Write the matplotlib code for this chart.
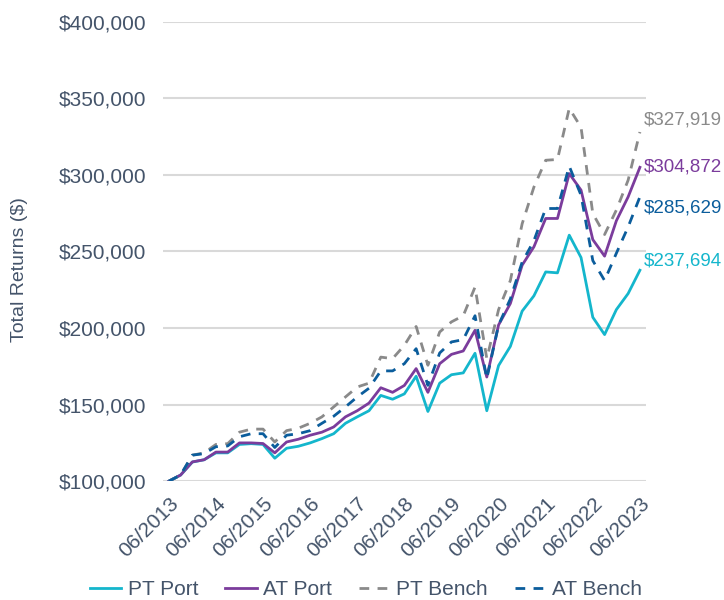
"""
Growth of $100,000 - portfolios vs benchmarks
"""

import numpy as np
import matplotlib.pyplot as plt
from matplotlib.ticker import FuncFormatter

plt.rcParams['font.family'] = ['Liberation Sans', 'DejaVu Sans']

# quarterly points, 06/2013 .. 06/2023
years = list(range(2013, 2024))
tick_labels = ['06/' + str(y) for y in years]

pt_port = [100000, 104000, 112500, 114000, 118500, 118500, 124000, 124500, 124000, 115000,
           121500, 122800, 125000, 127800, 131000, 137800, 142000, 146000, 156000, 153500,
           157000, 168500, 145500, 164000, 169500, 170700, 183500, 146000, 175500, 188000,
           211000, 221000, 236600, 236000, 260600, 246000, 207000, 195700, 212000, 222500,
           237694]
at_port = [100000, 104000, 112600, 114000, 119000, 119000, 125000, 125000, 124600, 118500,
           125600, 127400, 130000, 132000, 135400, 142000, 146000, 151000, 161000, 158000,
           162500, 173500, 158000, 176700, 182800, 185000, 198500, 168000, 202000, 216000,
           241000, 253000, 271500, 271500, 300800, 290000, 257700, 246900, 270000, 285600,
           304872]
pt_bench = [100000, 104000, 117000, 118500, 124000, 124500, 132000, 134000, 134000, 125600,
            133000, 134600, 137800, 142000, 148500, 155000, 161500, 164000, 181000, 180000,
            188700, 201000, 175700, 197400, 204000, 208000, 226700, 180000, 212000, 231000,
            268000, 292000, 309500, 310000, 343400, 331000, 274700, 261000, 277000, 296500,
            327919]
at_bench = [100000, 104000, 117000, 118000, 122500, 123000, 129000, 131000, 131000, 122000,
            130000, 131000, 133000, 137800, 142400, 148500, 155000, 160700, 172000, 172000,
            176700, 186500, 162600, 183700, 190900, 192400, 208000, 167000, 202000, 219000,
            243000, 257000, 278000, 278000, 305600, 286700, 244000, 231000, 248800, 266000,
            285629]

c_cyan = '#14b6cc'
c_purple = '#7b3c9c'
c_gray = '#8a8a8a'
c_blue = '#0b5d9c'
txt = '#44546a'

x = np.arange(len(pt_port))

plt.close('all')
fig = plt.figure(figsize=(7.24, 6), dpi=100)
ax = fig.add_axes([0.225, 0.198, 0.667, 0.766])

ax.plot(x, pt_port, color=c_cyan, lw=2, label='PT Port')
ax.plot(x, at_port, color=c_purple, lw=2, label='AT Port')
ax.plot(x, pt_bench, color=c_gray, lw=2, ls=(0, (3.5, 3)), label='PT Bench')
ax.plot(x, at_bench, color=c_blue, lw=2, ls=(0, (3.5, 3)), label='AT Bench')

# end labels, nudged so they don't collide
for vals, c, dy in [(pt_bench, c_gray, 9), (at_port, c_purple, 0),
                    (at_bench, c_blue, -8), (pt_port, c_cyan, 7)]:
    ax.annotate('${:,.0f}'.format(vals[-1]), (x[-1], vals[-1]), xytext=(3, dy),
                textcoords='offset points', color=c, fontsize=13.5, ha='left', va='center',
                annotation_clip=False)

ax.set_xlim(-0.5, len(x) - 0.5)
ax.set_ylim(100000, 400000)
ax.set_yticks(np.arange(100000, 400001, 50000))
ax.yaxis.set_major_formatter(FuncFormatter(lambda v, p: '${:,.0f}'.format(v)))
ax.set_xticks(x[::4])
ax.set_xticklabels(tick_labels, rotation=45, ha='right', rotation_mode='anchor')

ax.grid(axis='y', color='#d9d9d9', lw=1.5)
ax.set_axisbelow(True)
for s in ax.spines.values():
    s.set_visible(False)
ax.tick_params(axis='both', length=0, labelsize=15, labelcolor=txt)
ax.tick_params(axis='y', pad=12)
ax.tick_params(axis='x', pad=9)
ax.set_ylabel('Total Returns ($)', fontsize=14, color=txt)
ax.yaxis.set_label_coords(-0.28, 0.46)

fig.legend(loc='center', bbox_to_anchor=(0.506, 0.017), ncol=4, frameon=False,
           fontsize=15, handlelength=1.5, handletextpad=0.3, columnspacing=1.3,
           labelcolor=txt)

fig.savefig('out.png', dpi=100)
